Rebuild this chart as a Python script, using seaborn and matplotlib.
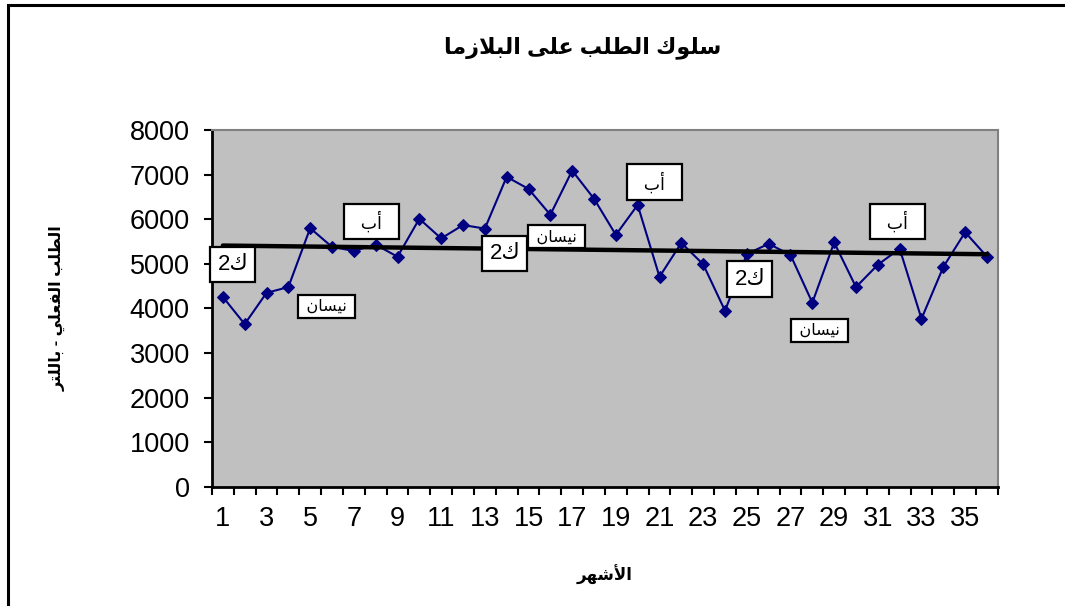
import numpy as np
import pandas as pd
import matplotlib
matplotlib.use("Agg")
import matplotlib.pyplot as plt
from matplotlib.patches import Rectangle
from matplotlib.ticker import FixedLocator
import seaborn as sns

# monthly demand for plasma (litres)
months = list(range(1, 37))
demand = [4260, 3650, 4350, 4480, 5800, 5380, 5290, 5430, 5160, 6010,
          5570, 5870, 5790, 6950, 6680, 6100, 7090, 6460, 5650, 6320,
          4710, 5470, 4990, 3950, 5220, 5450, 5200, 4130, 5480, 4480,
          4980, 5340, 3770, 4930, 5710, 5160]

# month-name call-outs (ك2 = January, نيسان = April, أب = August)
label_months = [1, 4, 8, 13, 16, 20, 25, 28, 32]
label_texts = ["ك2", "نيسان", "أب", "ك2", "نيسان", "أب", "ك2", "نيسان", "أب"]

title = "سلوك الطلب على البلازما"
xlabel = "الأشهر"
ylabel = "الطلب الفعلي - باللتر"
yticks = [0, 1000, 2000, 3000, 4000, 5000, 6000, 7000, 8000]

# matplotlib has no Arabic shaping, so pick presentation forms by hand
# (isolated, final, initial, medial); None = letter never joins forward
FORMS = {
    "ا": ("\uFE8D", "\uFE8E", None, None),
    "أ": ("\uFE83", "\uFE84", None, None),
    "ب": ("\uFE8F", "\uFE90", "\uFE91", "\uFE92"),
    "ت": ("\uFE95", "\uFE96", "\uFE97", "\uFE98"),
    "ر": ("\uFEAD", "\uFEAE", None, None),
    "ز": ("\uFEAF", "\uFEB0", None, None),
    "س": ("\uFEB1", "\uFEB2", "\uFEB3", "\uFEB4"),
    "ش": ("\uFEB5", "\uFEB6", "\uFEB7", "\uFEB8"),
    "ط": ("\uFEC1", "\uFEC2", "\uFEC3", "\uFEC4"),
    "ع": ("\uFEC9", "\uFECA", "\uFECB", "\uFECC"),
    "ف": ("\uFED1", "\uFED2", "\uFED3", "\uFED4"),
    "ك": ("\uFED9", "\uFEDA", "\uFEDB", "\uFEDC"),
    "ل": ("\uFEDD", "\uFEDE", "\uFEDF", "\uFEE0"),
    "م": ("\uFEE1", "\uFEE2", "\uFEE3", "\uFEE4"),
    "ن": ("\uFEE5", "\uFEE6", "\uFEE7", "\uFEE8"),
    "ه": ("\uFEE9", "\uFEEA", "\uFEEB", "\uFEEC"),
    "و": ("\uFEED", "\uFEEE", None, None),
    "ى": ("\uFEEF", "\uFEF0", None, None),
    "ي": ("\uFEF1", "\uFEF2", "\uFEF3", "\uFEF4"),
}
LAM_ALEF = {"ا": ("\uFEFB", "\uFEFC"), "أ": ("\uFEF7", "\uFEF8")}


def shape(text):
    chars = list(text)
    out = []
    i = 0
    while i < len(chars):
        c = chars[i]
        prev_joins = i > 0 and chars[i - 1] in FORMS and FORMS[chars[i - 1]][2] is not None
        if c not in FORMS:
            out.append(c)
            i += 1
            continue
        if c == "ل" and i + 1 < len(chars) and chars[i + 1] in LAM_ALEF:
            out.append(LAM_ALEF[chars[i + 1]][1 if prev_joins else 0])
            i += 2
            continue
        next_joins = (i + 1 < len(chars) and chars[i + 1] in FORMS
                      and FORMS[c][2] is not None)
        iso, fin, ini, med = FORMS[c]
        if prev_joins and next_joins:
            out.append(med)
        elif prev_joins:
            out.append(fin)
        elif next_joins:
            out.append(ini)
        else:
            out.append(iso)
        i += 1
    return "".join(reversed(out))


df = pd.DataFrame({"month": months, "demand": demand})

sns.set_style("white")
plt.rcParams["font.family"] = ["Liberation Sans", "DejaVu Sans"]
plt.rcParams["text.color"] = "black"
plt.rcParams["axes.labelcolor"] = "black"
plt.rcParams["xtick.color"] = "black"
plt.rcParams["ytick.color"] = "black"

fig = plt.figure(figsize=(10.65, 6.06), dpi=100)
ax = fig.add_axes([0.199, 0.1964, 0.738, 0.5891])
ax.set_facecolor("#C0C0C0")

sns.lineplot(data=df, x="month", y="demand", ax=ax, color="#000080",
             linewidth=1.5, marker="D", markersize=6.5,
             markeredgecolor="#000080", zorder=3)
sns.regplot(data=df, x="month", y="demand", ax=ax, scatter=False, ci=None,
            truncate=True, line_kws=dict(color="black", linewidth=3.2, zorder=4))

# call-out boxes, offsets in pixels from the point
offsets = [(10, 32), (38, -19), (-4, 23), (20, -25), (6, -22),
           (17, 23), (3, -25), (7, -28), (-2, 27)]
for m, txt, off in zip(label_months, label_texts, offsets):
    v = demand[months.index(m)]
    if txt == "ك2":
        s, fs, pad = shape(txt), 16, 0.32
    elif txt == "أب":
        s, fs, pad = "  " + shape(txt) + "  ", 12.5, 0.4
    else:
        s, fs, pad = " " + shape(txt) + " ", 11.5, 0.25
    ax.annotate(s, xy=(m, v), xytext=off, textcoords="offset pixels",
                ha="center", va="center", fontsize=fs, zorder=6,
                bbox=dict(boxstyle=f"square,pad={pad}", fc="white",
                          ec="black", lw=1.6))

ax.set_xlim(0.5, 36.5)
ax.set_ylim(0, 8000)
ax.set_yticks(yticks)
ax.set_xticks(months[::2])
ax.set_xticklabels([str(m) for m in months[::2]])
ax.xaxis.set_minor_locator(FixedLocator(np.arange(0.5, 37, 1)))
ax.tick_params(axis="x", which="major", length=0, pad=14, labelsize=19.5)
ax.tick_params(axis="x", which="minor", length=6, width=1.5,
               direction="out", color="black", bottom=True)
ax.tick_params(axis="y", length=6, width=1.5, direction="out",
               color="black", pad=10, labelsize=19.5, left=True)

ax.set_xlabel(shape(xlabel), fontsize=12, fontweight="bold")
ax.xaxis.set_label_coords(0.5, -0.218)
ax.set_ylabel(shape(ylabel), fontsize=11.5, fontweight="bold")
ax.yaxis.set_label_coords(-0.186, 0.5)
ax.text(0.472, 1.232, shape(title), transform=ax.transAxes, ha="center",
        va="center", fontsize=16, fontweight="bold")

for side in ["left", "bottom"]:
    ax.spines[side].set_color("black")
    ax.spines[side].set_linewidth(2)
for side in ["top", "right"]:
    ax.spines[side].set_color("#808080")
    ax.spines[side].set_linewidth(1.5)

# outer chart-area frame (cut off on the right and bottom)
fig.add_artist(Rectangle((7.5 / 1065, -0.2), 2, 1.2 - 4.5 / 606,
                         transform=fig.transFigure, fill=False,
                         ec="black", lw=2.2))

fig.savefig("out.png", dpi=100)
